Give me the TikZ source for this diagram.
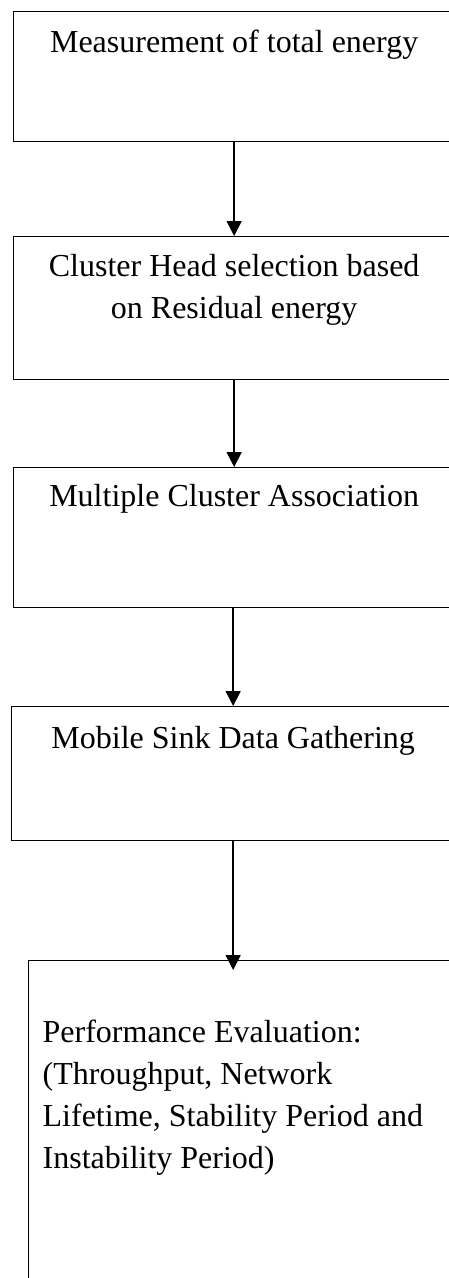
\documentclass[tikz,border=0pt]{standalone}
\usepackage{fontspec}
\setmainfont{Liberation Serif}
\usetikzlibrary{arrows.meta}

\begin{document}
\begin{tikzpicture}[
        x=1pt, y=-1pt,
        >={Triangle[length=15pt,width=15pt]},
        stage/.style={draw, line width=1.3pt, anchor=north west, inner sep=0pt,
            minimum width=441pt, align=center, font=\fontsize{32}{42}\selectfont},
        flow/.style={->, line width=1.6pt}
    ]
    \useasboundingbox (0,0) rectangle (448,1278);
    \node[stage, text height=41pt, text depth=89pt] (energy) at (13,11)
        {Measurement of total energy};
    \node[stage, text height=82pt, text depth=61pt] (chsel) at (13,236)
        {Cluster Head selection based\\on Residual energy};
    \node[stage, text height=39pt, text depth=101pt] (assoc) at (13,467)
        {Multiple Cluster Association};
    \node[stage, text height=42pt, text depth=92pt, minimum width=443pt] (sink) at (11,706)
        {Mobile Sink Data Gathering};
    \node[stage, align=flush left, text width=414pt, inner xsep=14pt,
        text height=82pt, text depth=300pt] (perf) at (28,960)
        {Performance Evaluation:\\(Throughput, Network\\Lifetime, Stability Period and\\Instability Period)};
    \draw[flow] (energy) -- (chsel);
    \draw[flow] (chsel) -- (assoc);
    \draw[flow] (assoc.south -| sink.south) -- (sink);
    \draw[flow] (sink.south) -- ([yshift=-10pt]sink.south |- perf.north);
\end{tikzpicture}
\end{document}
